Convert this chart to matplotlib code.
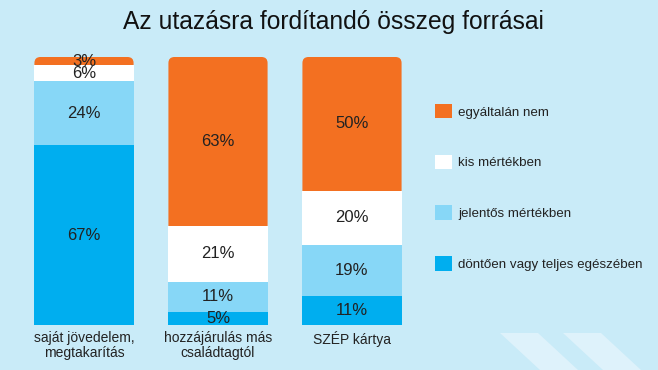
import matplotlib.pyplot as plt
from matplotlib.patches import FancyBboxPatch, Polygon, Patch

plt.rcParams['font.family'] = ['Liberation Sans', 'DejaVu Sans']

# data
title = "Az utazásra fordítandó összeg forrásai"
categories = ["saját jövedelem,\nmegtakarítás", "hozzájárulás más\ncsaládtagtól", "SZÉP kártya"]
series_names = ["döntően vagy teljes egészében", "jelentős mértékben", "kis mértékben", "egyáltalán nem"]
dontoen = [67, 5, 11]
jelentos = [24, 11, 19]
kis = [6, 21, 20]
egyaltalan = [3, 63, 50]

colors = ['#00aeef', '#87d7f7', '#ffffff', '#f37021']
bg = '#c9ebf8'

fig = plt.figure(figsize=(6.58, 3.70), dpi=100, facecolor=bg)

# decorative stripes, bottom right
for x0 in [500, 563]:
    pts = [(x0, 333), (x0 + 38, 333), (x0 + 78, 370), (x0 + 40, 370)]
    fig.patches.append(Polygon([(px / 658, 1 - py / 370) for px, py in pts],
                               closed=True, transform=fig.transFigure,
                               facecolor='#def2fb', edgecolor='none', zorder=0))

ax = fig.add_axes([17 / 658, 1 - 325 / 370, 402 / 658, 268 / 370])
ax.set_facecolor('none')
ax.set_xlim(-0.5, 2.5)
ax.set_ylim(0, 100)
for s in ax.spines.values():
    s.set_visible(False)
ax.set_yticks([])
ax.set_xticks(range(len(categories)))
ax.set_xticklabels(categories, fontsize=10, color='#222222', linespacing=1.15)
ax.tick_params(axis='x', length=0, pad=4)

width = 0.74
stack = [dontoen, jelentos, kis, egyaltalan]

for i in range(len(categories)):
    total = sum(s[i] for s in stack)
    # orange top with rounded corners, lower part is covered by other segments
    box = FancyBboxPatch((i - width / 2, 0), width, total,
                         boxstyle="round,pad=0,rounding_size=0.045",
                         mutation_aspect=50, facecolor=colors[3],
                         edgecolor='none', zorder=1)
    ax.add_patch(box)

bottom = [0, 0, 0]
for k, vals in enumerate(stack):
    if k < 3:
        ax.bar(range(len(categories)), vals, width=width, bottom=bottom,
               color=colors[k], edgecolor='none', zorder=2)
    for i, v in enumerate(vals):
        ax.text(i, bottom[i] + v / 2, f"{v}%", ha='center', va='center',
                fontsize=12, color='#222222', zorder=3)
    bottom = [b + v for b, v in zip(bottom, vals)]

fig.text(333 / 658, 1 - 22 / 370, title, ha='center', va='center',
         fontsize=17.7, color='#111111')

handles = [Patch(facecolor=colors[k], edgecolor='none') for k in [3, 2, 1, 0]]
labels = [series_names[k] for k in [3, 2, 1, 0]]
fig.legend(handles, labels, loc='upper left', bbox_to_anchor=(423 / 658, 1 - 92 / 370),
           frameon=False, fontsize=9.6, handlelength=1.27, handleheight=1.27,
           handletextpad=0.45, labelspacing=2.71, labelcolor='#222222')

fig.savefig('out.png', dpi=100, facecolor=bg)
